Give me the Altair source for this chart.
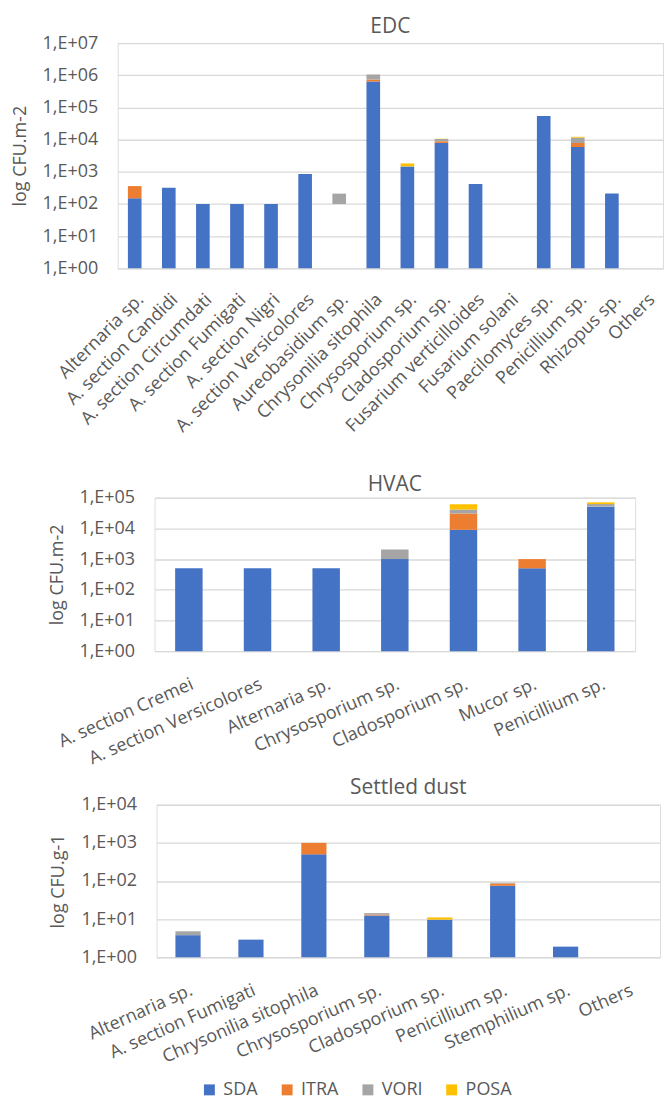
import altair as alt
import pandas as pd

SERIES = ["SDA", "ITRA", "VORI", "POSA"]
COLORS = ["#4472C4", "#ED7D31", "#A5A5A5", "#FFC000"]

# ---------------- EDC ----------------
edc_categories = [
    "Alternaria sp.", "A. section Candidi", "A. section Circumdati", "A. section Fumigati",
    "A. section Nigri", "A. section Versicolores", "Aureobasidium sp.", "Chrysonilia sitophila",
    "Chrysosporium sp.", "Cladosporium sp.", "Fusarium verticilloides", "Fusarium solani",
    "Paecilomyces sp.", "Penicillium sp.", "Rhizopus sp.", "Others"]
edc_sda = [150, 320, 100, 100, 100, 850, 0, 640000, 1470, 7900, 420, 0, 54000, 5900, 210, 0]
edc_itra = [210, 0, 0, 0, 0, 0, 0, 100000, 0, 1000, 0, 0, 0, 1950, 0, 0]
edc_vori = [0, 0, 0, 0, 0, 0, 110, 315000, 0, 1600, 0, 0, 0, 3700, 0, 0]
edc_posa = [0, 0, 0, 0, 0, 0, 0, 0, 350, 150, 0, 0, 0, 700, 0, 0]
edc_offset = [0, 0, 0, 0, 0, 0, 100, 0, 0, 0, 0, 0, 0, 0, 0, 0]

# ---------------- HVAC ----------------
hvac_categories = ["A. section Cremei", "A. section Versicolores", "Alternaria sp.",
                   "Chrysosporium sp.", "Cladosporium sp.", "Mucor sp.", "Penicillium sp."]
hvac_sda = [500, 500, 500, 1000, 9000, 500, 51000]
hvac_itra = [0, 0, 0, 0, 21500, 500, 0]
hvac_vori = [0, 0, 0, 1050, 10500, 0, 11000]
hvac_posa = [0, 0, 0, 0, 20000, 0, 8500]

# ---------------- Settled dust ----------------
sd_categories = ["Alternaria sp.", "A. section Fumigati", "Chrysonilia sitophila",
                 "Chrysosporium sp.", "Cladosporium sp.", "Penicillium sp.",
                 "Stemphilium sp.", "Others"]
sd_sda = [3.8, 2.9, 500, 12.5, 9.7, 75, 1.9, 0]
sd_itra = [0, 0, 500, 0.8, 0, 11, 0, 0]
sd_vori = [1.0, 0, 0, 1.1, 0, 3.6, 0, 0]
sd_posa = [0, 0, 0, 0, 1.4, 0, 0, 0]

FONT = "Open Sans"
TXT = "#595959"
GRID = "#D9D9D9"


def segments(cats, cols, offset=None):
    rows = []
    for i, c in enumerate(cats):
        cum = offset[i] if offset else 0
        for k, (s, vals) in enumerate(zip(SERIES, cols)):
            v = vals[i]
            if v > 0:
                rows.append({"cat": c, "series": s, "order": k,
                             "lo": max(cum, 1), "hi": cum + v})
                cum += v
    return pd.DataFrame(rows)


legend = alt.Legend(title=None, orient="none", legendX=193, legendY=1041,
                    direction="horizontal", symbolType="square", symbolSize=120,
                    symbolStrokeWidth=0, labelFontSize=18, labelFont=FONT,
                    labelColor=TXT, columnPadding=20, labelOffset=5)


def panel(df, cats, title, toffset, ytitle, ymax, width, height, angle, lpad):
    vals = [10 ** e for e in range(0, ymax + 1)]
    return alt.Chart(df).mark_bar().encode(
        x=alt.X("cat:N",
                scale=alt.Scale(domain=cats, paddingInner=0.6, paddingOuter=0.3),
                axis=alt.Axis(title=None, labelAngle=angle, labelFontSize=18,
                              labelFont=FONT, labelColor=TXT, domain=False,
                              ticks=False, labelPadding=lpad, labelLimit=400,
                              labelOverlap=False)),
        y=alt.Y("lo:Q",
                scale=alt.Scale(type="log", domain=[1, 10 ** ymax], nice=False),
                axis=alt.Axis(values=vals,
                              labelExpr="'1,E+0' + round(log(datum.value)/LN10)",
                              grid=True, gridColor=GRID, gridWidth=1.3, domain=False,
                              ticks=False, tickSize=0, labelPadding=20,
                              labelFontSize=18, labelFont=FONT, labelColor=TXT,
                              labelFlush=False, labelOverlap=False,
                              title=ytitle, titlePadding=13, titleFontSize=18,
                              titleFont=FONT, titleColor=TXT,
                              titleFontWeight="normal")),
        y2="hi:Q",
        color=alt.Color("series:N", scale=alt.Scale(domain=SERIES, range=COLORS),
                        legend=legend),
    ).properties(
        width=width, height=height,
        title=alt.TitleParams(text=title, fontSize=21, font=FONT, color=TXT,
                              fontWeight="normal", offset=toffset),
    )


def spacer(w):
    return alt.Chart(pd.DataFrame({"v": [0]})).mark_point(opacity=0, size=0).properties(
        width=w, height=1)


edc = panel(segments(edc_categories, [edc_sda, edc_itra, edc_vori, edc_posa], edc_offset),
            edc_categories, "EDC", -2.5, "log CFU.m-2", 7, 547, 226, -45, 22)
hvac = panel(segments(hvac_categories, [hvac_sda, hvac_itra, hvac_vori, hvac_posa]),
             hvac_categories, "HVAC", -6, "log CFU.m-2", 5, 482, 154, -24, 24)
sd = panel(segments(sd_categories, [sd_sda, sd_itra, sd_vori, sd_posa]),
           sd_categories, "Settled dust", -2, "log CFU.g-1", 4, 505, 153, -24, 24)

row_edc = alt.hconcat(spacer(2), edc, spacing=0)
row_hvac = alt.hconcat(spacer(39), hvac, spacing=0)
row_sd = alt.hconcat(spacer(41), sd, spacing=0)

top = alt.vconcat(row_edc, row_hvac, spacing=36)
chart = alt.vconcat(top, row_sd, spacing=7).properties(
    padding={"left": 0, "top": 5.5, "right": 0, "bottom": 0}
).configure_view(stroke=None).configure(font=FONT)

chart.save("out.html", embed_options={"renderer": "svg", "actions": False})
